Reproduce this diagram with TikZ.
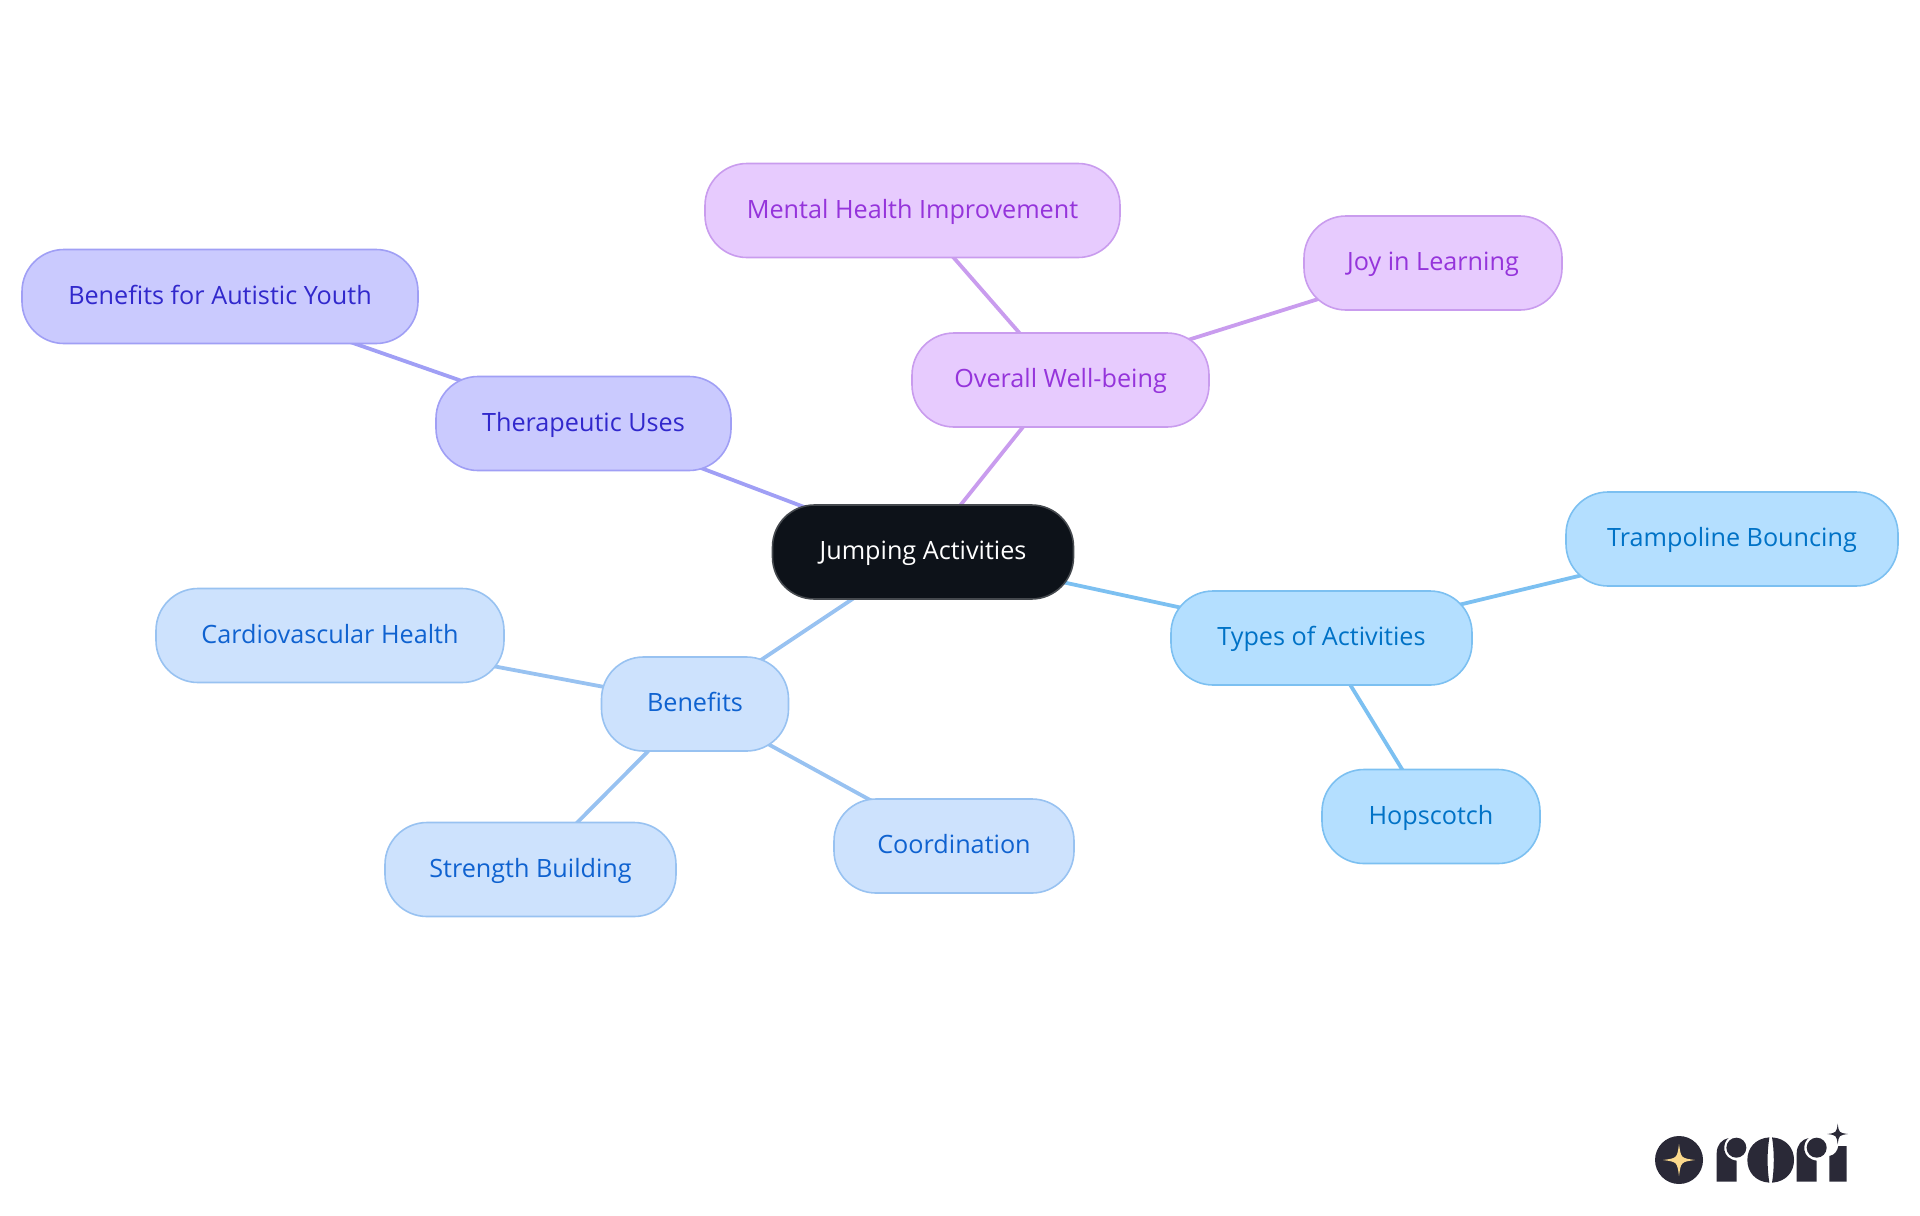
\documentclass[tikz,border=0pt]{standalone}
\usepackage{fontspec}
\setmainfont{Open Sans}
\usetikzlibrary{backgrounds}
\definecolor{rootfill}{HTML}{0D1219}
\definecolor{rootline}{HTML}{45494E}
\definecolor{wellfill}{HTML}{E7CBFE}
\definecolor{wellline}{HTML}{C99CEE}
\definecolor{welltext}{HTML}{9534DB}
\definecolor{therfill}{HTML}{CACAFE}
\definecolor{therline}{HTML}{A09FF5}
\definecolor{thertext}{HTML}{3128CC}
\definecolor{benefill}{HTML}{CDE2FD}
\definecolor{beneline}{HTML}{98C2F1}
\definecolor{benetext}{HTML}{0F62D0}
\definecolor{typefill}{HTML}{B4DFFF}
\definecolor{typeline}{HTML}{7CC0F1}
\definecolor{typetext}{HTML}{0072C6}
\definecolor{logodark}{HTML}{2A2937}
\definecolor{logostar}{HTML}{FBD98C}
\tikzset{
	mapnode/.style={draw,rounded corners=21pt,line width=0.8pt,inner sep=0pt,
		minimum height=47pt,text height=10pt,text depth=2.4pt,
		font=\fontsize{12.6}{15}\selectfont},
	link/.style={line width=1.9pt}
}
\newcommand{\sparkle}[3]{\fill[#3] (#1-1,#2)
	.. controls (#1-0.12,#2-0.12) and (#1-0.12,#2-0.12) .. (#1,#2-1)
	.. controls (#1+0.12,#2-0.12) and (#1+0.12,#2-0.12) .. (#1+1,#2)
	.. controls (#1+0.12,#2+0.12) and (#1+0.12,#2+0.12) .. (#1,#2+1)
	.. controls (#1-0.12,#2+0.12) and (#1-0.12,#2+0.12) .. cycle;}
\begin{document}
\begin{tikzpicture}[x=0.5pt,y=-0.5pt]
	\useasboundingbox (0,0) rectangle (1920,1215);
	\begin{scope}[every node/.style={mapnode,fill=rootfill,draw=rootline,text=white}]
		\node (root) at (923,552) [minimum width=150.5pt] {Jumping Activities};
	\end{scope}

	\begin{scope}[every node/.style={mapnode,fill=wellfill,draw=wellline,text=welltext}]
		\node (well) at (1060.5,380) [minimum width=148.5pt] {Overall Well-being};
		\node (mental) at (912.5,210.5) [minimum width=207.5pt] {Mental Health Improvement};
		\node (joy) at (1433,263) [minimum width=129pt] {Joy in Learning};
	\end{scope}

	\begin{scope}[every node/.style={mapnode,fill=therfill,draw=therline,text=thertext}]
		\node (therapy) at (583.5,423.5) [minimum width=147.5pt] {Therapeutic Uses};
		\node (autistic) at (220,296.5) [minimum width=198pt] {Benefits for Autistic Youth};
	\end{scope}

	\begin{scope}[every node/.style={mapnode,fill=benefill,draw=beneline,text=benetext}]
		\node (benefits) at (695,704) [minimum width=93.5pt] {Benefits};
		\node (cardio) at (330,635.5) [minimum width=174pt] {Cardiovascular Health};
		\node (strength) at (530.5,869.5) [minimum width=145.5pt] {Strength Building};
		\node (coord) at (954,846) [minimum width=120pt] {Coordination};
	\end{scope}

	\begin{scope}[every node/.style={mapnode,fill=typefill,draw=typeline,text=typetext}]
		\node (types) at (1321.5,638) [minimum width=150.5pt] {Types of Activities};
		\node (tramp) at (1732,539) [minimum width=166pt] {Trampoline Bouncing};
		\node (hop) at (1431,816.5) [minimum width=109pt] {Hopscotch};
	\end{scope}

	\begin{scope}[on background layer,every edge/.style={draw,link}]
		\path[wellline] (root.center) edge (well.center);
		\path[wellline] (well.center) edge (mental.center);
		\path[wellline] (well.center) edge (joy.center);
		\path[therline] (root.center) edge (therapy.center);
		\path[therline] (therapy.center) edge (autistic.center);
		\path[beneline] (root.center) edge (benefits.center);
		\path[beneline] (benefits.center) edge (cardio.center);
		\path[beneline] (benefits.center) edge (strength.center);
		\path[beneline] (benefits.center) edge (coord.center);
		\path[typeline] (root.center) edge (types.center);
		\path[typeline] (types.center) edge (tramp.center);
		\path[typeline] (types.center) edge (hop.center);
	\end{scope}

	\begin{scope}[shift={(1620,1100)},x=0.16667pt,y=-0.16667pt]
		\fill[logodark] (177,180) circle (72);
		\begin{scope}[shift={(177,180)},x=8pt,y=8pt]
			\sparkle{0}{0}{logostar}
		\end{scope}
		\fill[logodark] (290,245) -- (290,160) .. controls (290,135) and (305,118) .. (326,114)
			.. controls (306,128) and (304,176) .. (350,182) -- (350,245) -- cycle;
		\fill[logodark] (349,143) circle (30);
		\fill[logodark] (448,112) .. controls (405,115) and (382,145) .. (382,180)
			.. controls (382,215) and (405,245) .. (448,248)
			.. controls (441,205) and (441,155) .. cycle;
		\fill[logodark] (456,112) .. controls (499,115) and (522,145) .. (522,180)
			.. controls (522,215) and (499,245) .. (456,248)
			.. controls (463,205) and (463,155) .. cycle;
		\fill[logodark] (530,245) -- (530,160) .. controls (530,135) and (545,118) .. (566,114)
			.. controls (546,128) and (544,176) .. (590,182) -- (590,245) -- cycle;
		\fill[logodark] (590,143) circle (30);
		\fill[logodark] (628,245) -- (628,168) .. controls (645,165) and (652,152) .. (655,138)
			-- (680,138) -- (680,245) -- cycle;
		\begin{scope}[shift={(653,102)},x=5.2pt,y=5.2pt]
			\sparkle{0}{0}{logodark}
		\end{scope}
	\end{scope}
\end{tikzpicture}
\end{document}
